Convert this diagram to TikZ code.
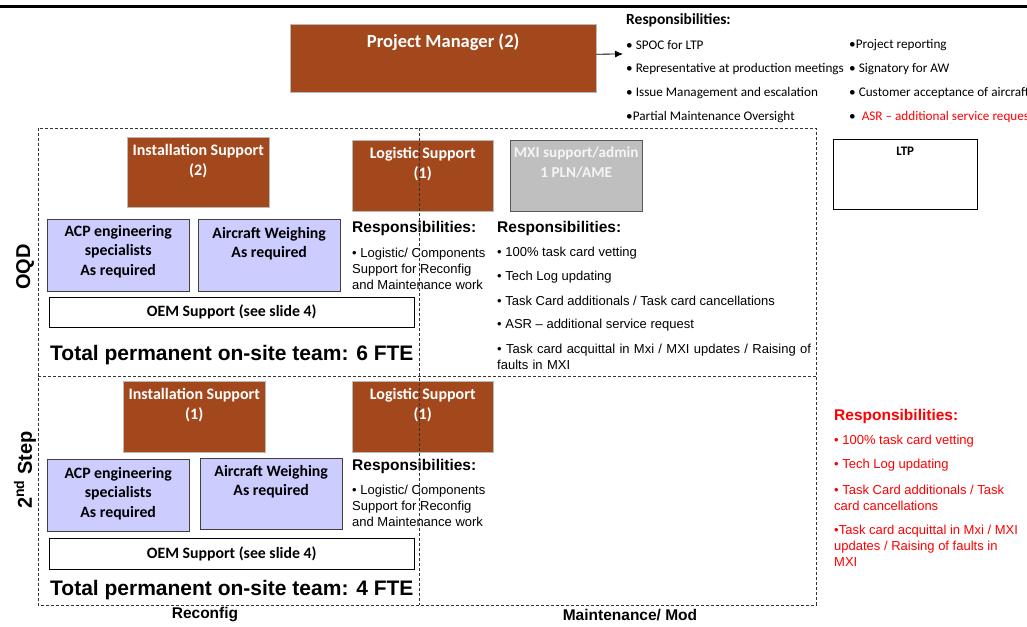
\documentclass[tikz,border=0pt]{standalone}
\usepackage{fontspec}
\setmainfont{Liberation Sans}
\newfontfamily\calfont{Carlito}
\usetikzlibrary{calc,positioning,arrows.meta}
\definecolor{pmbrown}{RGB}{163,72,29}
\definecolor{lavbox}{RGB}{204,204,255}
\definecolor{mxigrey}{RGB}{191,191,191}

\begin{document}
\begin{tikzpicture}[x=1pt,y=-1pt,
role/.style={rectangle,draw=gray!55,fill=pmbrown,anchor=north west,inner sep=0pt},
spec/.style={rectangle,draw=black!75,fill=lavbox,anchor=north west,inner sep=0pt},
plainbox/.style={rectangle,draw=black,fill=white,anchor=north west,inner sep=0pt},
roletxt/.style={inner sep=0pt,align=center,text=white,font=\calfont\bfseries\fontsize{16}{20}\selectfont},
spectxt/.style={inner sep=0pt,align=center,font=\calfont\bfseries\fontsize{15.8}{19.5}\selectfont},
pmresp/.style={inner sep=0pt,anchor=west,font=\calfont\fontsize{13.2}{15}\selectfont},
resphead/.style={inner sep=0pt,anchor=west,font=\bfseries\fontsize{15.5}{18}\selectfont},
resp/.style={inner sep=0pt,anchor=west,align=left,font=\fontsize{13}{16}\selectfont},
total/.style={inner sep=0pt,anchor=west,font=\bfseries\fontsize{21}{24}\selectfont},
phase/.style={inner sep=0pt,rotate=90,font=\bfseries\fontsize{20}{24}\selectfont},
stream/.style={inner sep=0pt,font=\bfseries\fontsize{15.5}{18}\selectfont},
area/.style={densely dashed,line width=0.7pt,black!80}]
	\useasboundingbox (0,0) rectangle (1027,626);
	\clip (0,0) rectangle (1027,626);
	\draw[line width=3.2pt] (0,6.5) -- (1027,6.5);
	
	% project manager
	\node[role,minimum width=306pt,minimum height=68pt] at (290,24) (pm) {};
	\node[roletxt,below,font=\calfont\bfseries\fontsize{18.5}{22}\selectfont] at ([yshift=-10pt]pm.north) (pmtxt) {Project Manager (2)};
	\coordinate (pmarr) at (623,54);
	\draw[-{Latex[length=8pt,width=7pt]},line width=0.8pt] ([yshift=4pt]pm.east) -- (pmarr);
	\node[pmresp,font=\calfont\bfseries\fontsize{15.5}{18}\selectfont] at (626,20) (pmhead) {Responsibilities:};
	\node[pmresp] at (626,45) (pm1) {• SPOC for LTP};
	\node[pmresp] at (626,69) (pm2) {• Representative at production meetings};
	\node[pmresp] at (626,93) (pm3) {• Issue Management and escalation};
	\node[pmresp] at (626,117) (pm4) {•Partial Maintenance Oversight};
	\node[pmresp] at (849,45) (pm5) {•Project reporting};
	\node[pmresp] at (849,69) (pm6) {• Signatory for AW};
	\node[pmresp] at (849,93) (pm7) {• Customer acceptance of aircraft};
	\node[pmresp] at (849,117) (pm8) {•\ \ \textcolor{red}{ASR – additional service request}};
	
	% OQD
	\node[role,minimum width=142pt,minimum height=70pt] at (127,137) (inst1) {};
	\node[roletxt,below] at ([yshift=-7pt]inst1.north) {Installation Support\\(2)};
	\node[role,minimum width=141pt,minimum height=71pt] at (352,140) (log1) {};
	\node[roletxt,below] at ([yshift=-7pt]log1.north) {Logistic Support\\(1)};
	\node[role,fill=mxigrey,draw=black!65,minimum width=132pt,minimum height=71pt] at (510,140) (mxi) {};
	\node[roletxt,below,text=white!96!black,font=\calfont\bfseries\fontsize{15.2}{20}\selectfont] at ([yshift=-7pt]mxi.north) {MXI support/admin\\1 PLN/AME};
	\node[spec,minimum width=142pt,minimum height=72pt] at (47,219) (acp1) {};
	\node[spectxt,below] at ([yshift=-6pt]acp1.north) {ACP engineering\\specialists\\As required};
	\node[spec,minimum width=142pt,minimum height=72pt] at (198,219) (aw1) {};
	\node[spectxt,below] at ([yshift=-8pt]aw1.north) {Aircraft Weighing\\As required};
	\node[plainbox,minimum width=365pt,minimum height=30pt,font=\calfont\bfseries\fontsize{15.8}{18}\selectfont] at (49,297) (oem1) {OEM Support (see slide 4)};
	\node[total] at (50,355) (tot1) {Total permanent on-site team: 6 FTE};
	\node[resphead] at (352,228) (lhead1) {Responsibilities:};
	\node[resp,anchor=north west] at (352,248) (lresp1) {• Logistic/ Components\\Support for Reconfig\\and Maintenance work};
	\node[resphead] at (497,228) (mhead) {Responsibilities:};
	\node[resp] at (497,253) (m1) {• 100\% task card vetting};
	\node[resp] at (497,277) (m2) {• Tech Log updating};
	\node[resp] at (497,301) (m3) {• Task Card additionals / Task card cancellations};
	\node[resp] at (497,325) (m4) {• ASR – additional service request};
	\node[resp,anchor=north west,text width=320pt] at (497,344) (m5) {• Task card acquittal in Mxi / MXI updates / Raising of\\faults in MXI};
	\node[plainbox,minimum width=144pt,minimum height=70pt] at (833,139) (ltp) {};
	\node[below,inner sep=0pt,font=\calfont\bfseries\fontsize{13}{15}\selectfont] at ([yshift=-8pt]ltp.north) {LTP};
	
	% 2nd step
	\node[role,minimum width=142pt,minimum height=71pt] at (123,381) (inst2) {};
	\node[roletxt,below] at ([yshift=-7pt]inst2.north) {Installation Support\\(1)};
	\node[role,minimum width=141pt,minimum height=71pt] at (352,381) (log2) {};
	\node[roletxt,below] at ([yshift=-7pt]log2.north) {Logistic Support\\(1)};
	\node[spec,minimum width=142pt,minimum height=72pt] at (47,459) (acp2) {};
	\node[spectxt,below] at ([yshift=-8pt]acp2.north) {ACP engineering\\specialists\\As required};
	\node[spec,minimum width=142pt,minimum height=71pt] at (200,458) (aw2) {};
	\node[spectxt,below] at ([yshift=-7pt]aw2.north) {Aircraft Weighing\\As required};
	\node[plainbox,minimum width=365pt,minimum height=31pt,font=\calfont\bfseries\fontsize{15.8}{18}\selectfont] at (49,538) (oem2) {OEM Support (see slide 4)};
	\node[total] at (50,590) (tot2) {Total permanent on-site team: 4 FTE};
	\node[resphead] at (352,466) (lhead2) {Responsibilities:};
	\node[resp,anchor=north west] at (352,485) (lresp2) {• Logistic/ Components\\Support for Reconfig\\and Maintenance work};
	
	% red list
	\node[resphead,red] at (834,416) (rhead) {Responsibilities:};
	\node[resp,red] at (834,441) (r1) {• 100\% task card vetting};
	\node[resp,red] at (834,465) (r2) {• Tech Log updating};
	\node[resp,red,anchor=north west] at (834,485) (r3) {• Task Card additionals / Task\\card cancellations};
	\node[resp,red,anchor=north west] at (834,525) (r4) {•Task card acquittal in Mxi / MXI\\updates / Raising of faults in\\MXI};
	
	% areas
	\draw[area] (38,128) rectangle (816,605);
	\draw[area] (38,376) -- (816,376);
	\draw[area] (419,128) -- (419,605);
	\node[phase] at (25,267) (oqd) {OQD};
	\node[phase] at (25,470) (step2) {2\textsuperscript{nd} Step};
	\node[stream] at (205,615) (reconf) {Reconfig};
	\node[stream] at (630,615) (maint) {Maintenance/ Mod};
\end{tikzpicture}
\end{document}
